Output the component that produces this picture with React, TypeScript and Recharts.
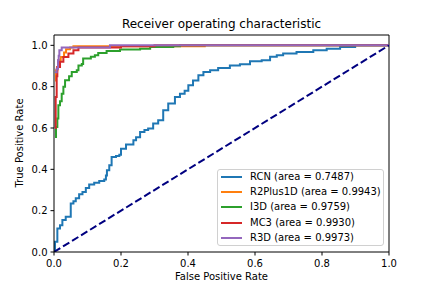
import React from 'react';
import { LineChart, Line, XAxis, YAxis, ReferenceLine } from 'recharts';

// [fpr, tpr] pairs
const rcn: [number, number][] = [
  [0, 0], [0.003, 0.05], [0.01, 0.114], [0.018, 0.13], [0.025, 0.155], [0.035, 0.17],
  [0.05, 0.235], [0.058, 0.245], [0.065, 0.26], [0.075, 0.279], [0.085, 0.29], [0.095, 0.31],
  [0.105, 0.327], [0.12, 0.335], [0.135, 0.344], [0.15, 0.351], [0.155, 0.37], [0.158, 0.396],
  [0.165, 0.42], [0.172, 0.46], [0.185, 0.465], [0.195, 0.47], [0.2, 0.5], [0.215, 0.52],
  [0.237, 0.541], [0.245, 0.555], [0.257, 0.581], [0.27, 0.59], [0.281, 0.597], [0.296, 0.622],
  [0.311, 0.638], [0.326, 0.686], [0.341, 0.718], [0.361, 0.75], [0.376, 0.766], [0.39, 0.78],
  [0.401, 0.807], [0.415, 0.83], [0.431, 0.855], [0.446, 0.871], [0.466, 0.879], [0.49, 0.89],
  [0.525, 0.902], [0.555, 0.908], [0.585, 0.923], [0.62, 0.928], [0.645, 0.945], [0.665, 0.952],
  [0.684, 0.96], [0.724, 0.968], [0.774, 0.976], [0.814, 0.984], [0.854, 0.992], [0.899, 1.0],
  [1.0, 1.0],
];
const r2plus1d: [number, number][] = [
  [0.003, 0.83], [0.006, 0.88], [0.01, 0.895], [0.013, 0.928], [0.02, 0.944], [0.03, 0.965],
  [0.036, 0.981], [0.048, 0.99], [0.058, 0.995], [0.45, 1.0], [1.0, 1.0],
];
const i3d: [number, number][] = [
  [0.003, 0.557], [0.006, 0.605], [0.01, 0.646], [0.013, 0.71], [0.018, 0.73], [0.023, 0.766],
  [0.028, 0.8], [0.033, 0.831], [0.045, 0.85], [0.053, 0.871], [0.068, 0.88], [0.073, 0.903],
  [0.083, 0.91], [0.087, 0.936], [0.11, 0.945], [0.122, 0.952], [0.132, 0.963], [0.157, 0.973],
  [0.197, 0.98], [0.257, 0.984], [0.287, 0.992], [0.356, 0.995], [0.376, 1.0], [1.0, 1.0],
];
const mc3: [number, number][] = [
  [0.003, 0.6], [0.005, 0.75], [0.008, 0.85], [0.01, 0.895], [0.018, 0.92], [0.028, 0.944],
  [0.043, 0.96], [0.058, 0.976], [0.073, 0.99], [0.2, 0.995], [0.3, 1.0], [1.0, 1.0],
];
const r3d: [number, number][] = [
  [0.003, 0.87], [0.008, 0.887], [0.012, 0.928], [0.014, 0.95], [0.016, 0.976], [0.023, 0.989],
  [0.038, 0.99], [0.167, 1.0], [1.0, 1.0],
];
const chance: [number, number][] = [[0, 0], [1, 1]];

const series = [
  { name: 'RCN', area: '0.7487', color: '#1f77b4', points: rcn },
  { name: 'R2Plus1D', area: '0.9943', color: '#ff7f0e', points: r2plus1d },
  { name: 'I3D', area: '0.9759', color: '#2ca02c', points: i3d },
  { name: 'MC3', area: '0.9930', color: '#d62728', points: mc3 },
  { name: 'R3D', area: '0.9973', color: '#9467bd', points: r3d },
];

const xTicks = [0, 0.2, 0.4, 0.6, 0.8, 1.0];
const yTicks = [0, 0.2, 0.4, 0.6, 0.8, 1.0];

const toRows = (pts: [number, number][]) => pts.map(([fpr, tpr]) => ({ fpr, tpr }));

const font = 'DejaVu Sans, sans-serif';
const tickStyle = { fontSize: 10, fill: '#000', fontFamily: font };

export default function App() {
  return (
    <div style={{ position: 'absolute', left: 0, top: 0, width: 432, height: 288, background: '#fff', fontFamily: font }}>
      <LineChart width={432} height={288} margin={{ top: 35, right: 43, bottom: 16, left: 14 }}>
        <XAxis
          dataKey="fpr"
          type="number"
          domain={[0, 1]}
          ticks={xTicks}
          tickFormatter={(v: number) => v.toFixed(1)}
          allowDataOverflow
          height={20}
          tickSize={3.5}
          tickMargin={4}
          tick={tickStyle}
          stroke="#000"
        />
        <YAxis
          dataKey="tpr"
          type="number"
          domain={[0, 1.05]}
          ticks={yTicks}
          tickFormatter={(v: number) => v.toFixed(1)}
          allowDataOverflow
          width={40}
          tickSize={3.5}
          tickMargin={3}
          tick={tickStyle}
          stroke="#000"
        />
        <ReferenceLine y={1.05} stroke="#000" />
        <ReferenceLine x={1} stroke="#000" />
        {series.map((s) => (
          <Line
            key={s.name}
            data={toRows(s.points)}
            dataKey="tpr"
            type="stepAfter"
            stroke={s.color}
            strokeWidth={2}
            dot={false}
            isAnimationActive={false}
          />
        ))}
        <Line
          data={toRows(chance)}
          dataKey="tpr"
          type="linear"
          stroke="#000080"
          strokeWidth={2}
          strokeDasharray="7.4 3.2"
          dot={false}
          isAnimationActive={false}
        />
      </LineChart>

      <div style={{ position: 'absolute', left: 54, width: 335, top: 17, textAlign: 'center', fontSize: 12, lineHeight: '14px' }}>
        Receiver operating characteristic
      </div>
      <div style={{ position: 'absolute', left: 54, width: 335, top: 271, textAlign: 'center', fontSize: 10, lineHeight: '12px' }}>
        False Positive Rate
      </div>
      <div
        style={{
          position: 'absolute',
          left: 20,
          top: 143,
          transform: 'translate(-50%, -50%) rotate(-90deg)',
          fontSize: 10,
          lineHeight: '12px',
          whiteSpace: 'nowrap',
        }}
      >
        True Positive Rate
      </div>

      <div
        style={{
          position: 'absolute',
          left: 217,
          top: 169,
          width: 167,
          height: 77,
          boxSizing: 'border-box',
          border: '1px solid #d0d0d0',
          borderRadius: 3,
          background: 'rgba(255,255,255,0.8)',
          fontSize: 10,
        }}
      >
        {series.map((s, i) => (
          <div key={s.name} style={{ position: 'absolute', left: 0, top: 1 + i * 15.2, height: 12, display: 'flex', alignItems: 'center', whiteSpace: 'nowrap' }}>
            <span style={{ display: 'inline-block', marginLeft: 3, width: 21, height: 2, background: s.color }} />
            <span style={{ marginLeft: 8, lineHeight: '12px' }}>{`${s.name} (area = ${s.area})`}</span>
          </div>
        ))}
      </div>
    </div>
  );
}
